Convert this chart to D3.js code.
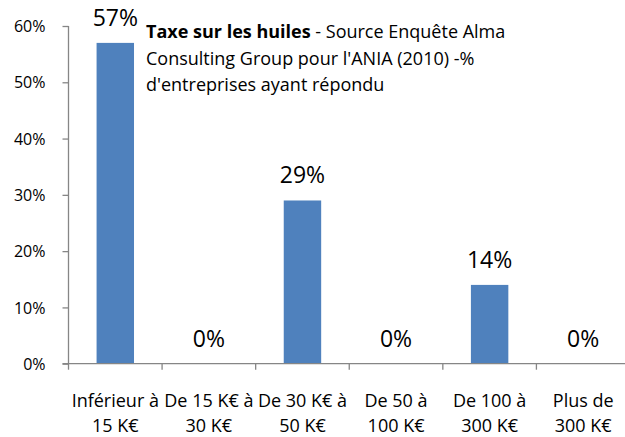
<!DOCTYPE html>
<html>
<head>
<meta charset="utf-8">
<script src="https://cdn.jsdelivr.net/npm/d3@7"></script>
<style>
  html, body { margin: 0; padding: 0; background: #fff; }
  svg { display: block; }
  text { font-family: "Open Sans", Lato, sans-serif; fill: #000; }
</style>
</head>
<body>
<svg id="chart" width="625" height="437"></svg>
<script>
const categories = [
  ["Inférieur à", "15 K€"],
  ["De 15 K€ à", "30 K€"],
  ["De 30 K€ à", "50 K€"],
  ["De 50 à", "100 K€"],
  ["De 100 à", "300 K€"],
  ["Plus de", "300 K€"]
];
const values = [57, 0, 29, 0, 14, 0];
const yTicks = [0, 10, 20, 30, 40, 50, 60];
const titleBold = "Taxe sur les huiles";
const titleLines = [" - Source Enquête Alma", "Consulting Group pour l'ANIA (2010) -%", "d'entreprises ayant répondu"];

(function () {
const svg = d3.select("#chart");
const mLeft = 68.5, mRight = 630, mTop = 26, mBottom = 363.7;
const keys = categories.map((c, i) => i);
const FONT = "'Open Sans', Lato, sans-serif";

const x = d3.scaleBand().domain(keys).range([mLeft, mRight]).paddingInner(0.6).paddingOuter(0.3);
const xb = d3.scaleBand().domain(keys).range([mLeft, mRight]);
const y = d3.scaleLinear().domain([0, 60]).range([mBottom, mTop]);

const axisColor = "#868686";

// Y axis
const yAxis = svg.append("g").attr("transform", `translate(${mLeft},0)`)
  .call(d3.axisLeft(y).tickValues(yTicks).tickSize(6).tickPadding(6).tickFormat(d => d + "%"));
yAxis.select(".domain").attr("stroke", axisColor).attr("stroke-width", 1.3).attr("d", `M0,${mBottom}V${mTop}`);
yAxis.selectAll(".tick line").attr("stroke", axisColor).attr("stroke-width", 1.3);
yAxis.selectAll(".tick text").style("font-size", "16px").attr("dy", "0.35em").attr("x", -23)
  .style("font-family", FONT).attr("fill", "#000");

// bars
svg.append("g").selectAll("rect").data(values).join("rect")
  .attr("x", (d, i) => x(i))
  .attr("width", x.bandwidth())
  .attr("y", d => y(d))
  .attr("height", d => mBottom - y(d))
  .attr("fill", "#4F81BD");

// X axis
const xAxisG = svg.append("g").attr("transform", `translate(0,${mBottom})`);
xAxisG.append("line").attr("x1", mLeft - 6).attr("x2", mRight).attr("y1", 0).attr("y2", 0)
  .attr("stroke", axisColor).attr("stroke-width", 1.3);
xAxisG.selectAll("line.tk").data(keys.concat([keys.length])).join("line").attr("class", "tk")
  .attr("x1", d => d < keys.length ? xb(d) : mRight).attr("x2", d => d < keys.length ? xb(d) : mRight)
  .attr("y1", 0).attr("y2", 6).attr("stroke", axisColor).attr("stroke-width", 1.3);
xAxisG.selectAll("text").data(categories).join("text")
  .attr("text-anchor", "middle")
  .style("font-size", "18px")
  .each(function(d, i) {
    const t = d3.select(this);
    const cx = xb(i) + xb.bandwidth() / 2;
    d.forEach((line, j) => {
      t.append("tspan").attr("x", cx).attr("y", 43 + j * 25.5).text(line);
    });
  });

// data labels
svg.append("g").selectAll("text").data(values).join("text")
  .attr("x", (d, i) => xb(i) + xb.bandwidth() / 2)
  .attr("y", d => y(d) - 17)
  .attr("text-anchor", "middle")
  .style("font-size", "23px")
  .text(d => d + "%");

// title
const title = svg.append("text").attr("x", 146).attr("y", 38).style("font-size", "18px");
const l1 = title.append("tspan").attr("x", 146).attr("y", 38);
l1.append("tspan").style("font-weight", "bold").text(titleBold);
l1.append("tspan").text(titleLines[0]);
title.append("tspan").attr("x", 146).attr("y", 64.5).text(titleLines[1]);
title.append("tspan").attr("x", 146).attr("y", 91).text(titleLines[2]);
})();
</script>
</body>
</html>
